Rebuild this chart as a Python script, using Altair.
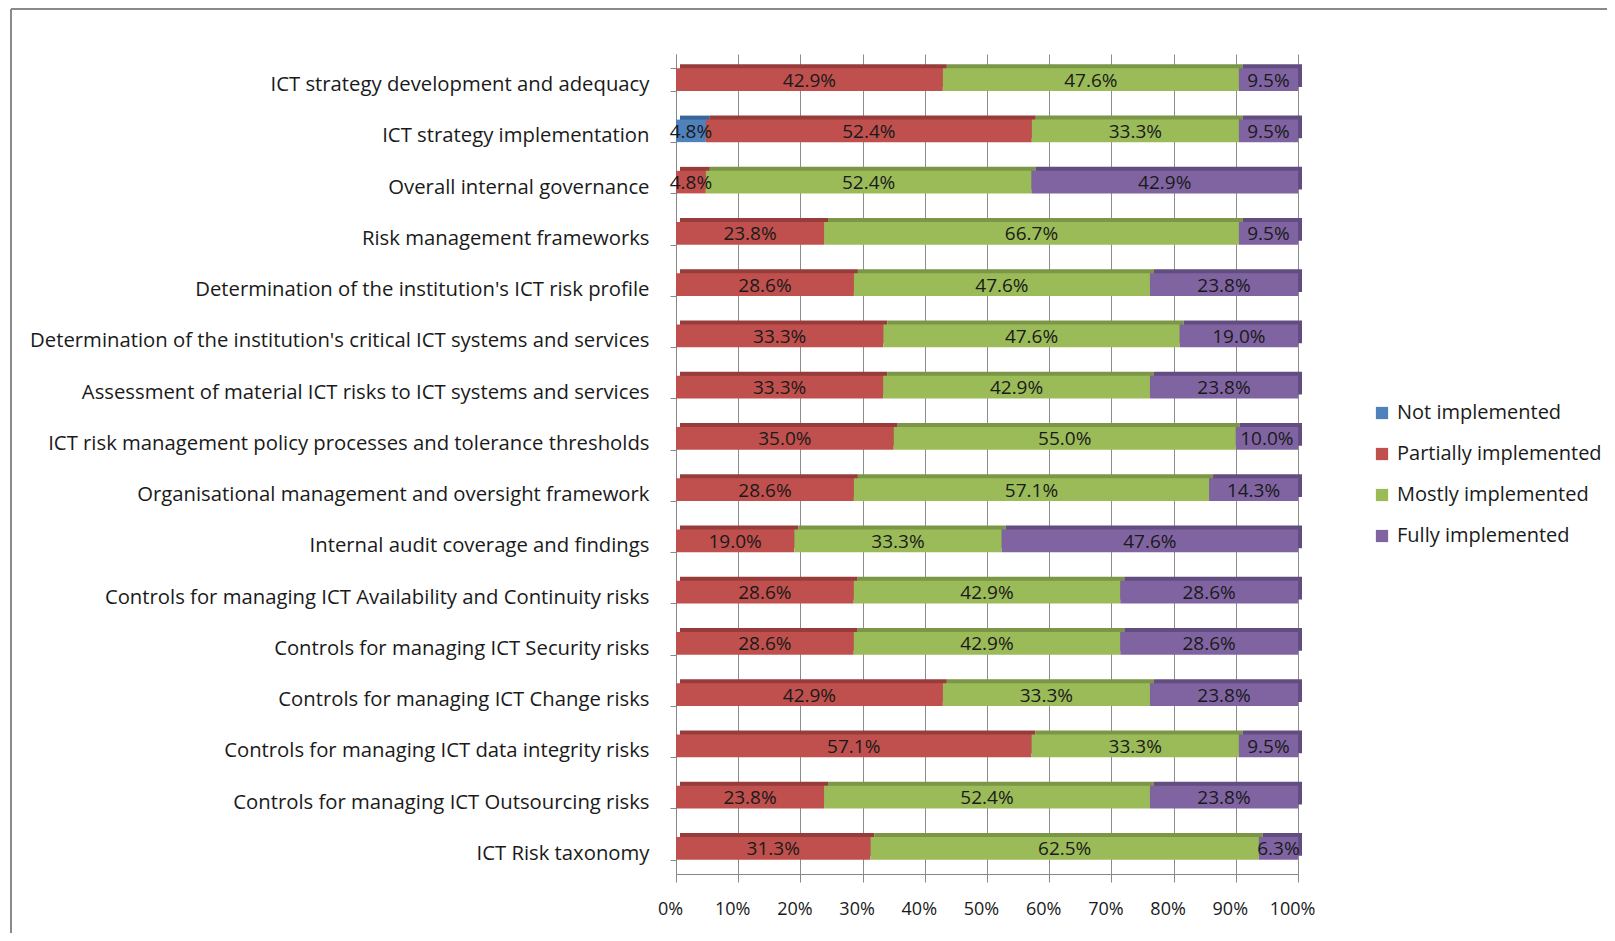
import altair as alt
import pandas as pd

categories = [
    "ICT strategy development and adequacy",
    "ICT strategy implementation",
    "Overall internal governance",
    "Risk management frameworks",
    "Determination of the institution's ICT risk profile",
    "Determination of the institution's critical ICT systems and services",
    "Assessment of material ICT risks to ICT systems and services",
    "ICT risk management policy processes and tolerance thresholds",
    "Organisational management and oversight framework",
    "Internal audit coverage and findings",
    "Controls for managing ICT Availability and Continuity risks",
    "Controls for managing ICT Security risks",
    "Controls for managing ICT Change risks",
    "Controls for managing ICT data integrity risks",
    "Controls for managing ICT Outsourcing risks",
    "ICT Risk taxonomy",
]
series = ["Not implemented", "Partially implemented", "Mostly implemented", "Fully implemented"]
not_impl = [0, 4.8, 0, 0, 0, 0, 0, 0, 0, 0, 0, 0, 0, 0, 0, 0]
partially = [42.9, 52.4, 4.8, 23.8, 28.6, 33.3, 33.3, 35.0, 28.6, 19.0, 28.6, 28.6, 42.9, 57.1, 23.8, 31.3]
mostly = [47.6, 33.3, 52.4, 66.7, 47.6, 47.6, 42.9, 55.0, 57.1, 33.3, 42.9, 42.9, 33.3, 33.3, 52.4, 62.5]
fully = [9.5, 9.5, 42.9, 9.5, 23.8, 19.0, 23.8, 10.0, 14.3, 47.6, 28.6, 28.6, 23.8, 9.5, 23.8, 6.3]
tick_values = [0, 0.1, 0.2, 0.3, 0.4, 0.5, 0.6, 0.7, 0.8, 0.9, 1.0]

colors = ["#4F81BD", "#C0504D", "#9BBB59", "#8064A2"]
dark_colors = ["#3A6597", "#973C3A", "#7A9646", "#624D80"]

rows = []
for s_i, (s, vals) in enumerate(zip(series, [not_impl, partially, mostly, fully])):
    for c, v in zip(categories, vals):
        rows.append({"category": c, "series": s, "k": s_i, "value": v})
df = pd.DataFrame(rows)

FONT = "Open Sans"
W, H = 622, 820
PAD_L, PAD_T = 668, 46

y_enc = alt.Y("category:N", sort=categories, title=None,
              scale=alt.Scale(paddingInner=0.56, paddingOuter=0.28),
              axis=alt.Axis(labelFontSize=20.3, labelColor="#1a1a1a", labelFont=FONT,
                            labelPadding=21, labelOffset=5, tickBand="extent", ticks=True,
                            tickSize=6, tickColor="#888888", domainColor="#888888",
                            labelLimit=800))

x_scale = alt.Scale(domain=[0, 1])

base = alt.Chart(df).transform_filter(alt.datum.value > 0)

back = base.mark_bar(xOffset=4, yOffset=-4).encode(
    y=y_enc,
    x=alt.X("value:Q", stack="normalize", scale=x_scale, title=None,
            axis=alt.Axis(format=".0%", values=tick_values, labelOverlap=False,
                          labelFlush=False, labelOffset=-6,
                          labelFontSize=18, labelColor="#1a1a1a", labelFont=FONT,
                          grid=True, gridColor="#8c8c8c", tickColor="#888888",
                          domainColor="#888888", tickSize=8, labelPadding=18)),
    color=alt.Color("series:N", sort=series,
                    scale=alt.Scale(domain=series, range=dark_colors), legend=None),
    order=alt.Order("k:Q"),
)

front = base.mark_bar().encode(
    y=alt.Y("category:N", sort=categories),
    x=alt.X("value:Q", stack="normalize", scale=x_scale),
    color=alt.Color("series:N", sort=series,
                    scale=alt.Scale(domain=series, range=colors),
                    legend=alt.Legend(title=None, orient="none", legendX=696, legendY=349,
                                      symbolType="square", symbolSize=150,
                                      symbolStrokeWidth=0, labelFontSize=20,
                                      labelFont=FONT, labelColor="#1a1a1a",
                                      rowPadding=21, labelOffset=5, labelLimit=400)),
    order=alt.Order("k:Q"),
)

labels = base.transform_joinaggregate(
    total="sum(value)", groupby=["category"]
).transform_window(
    cum="sum(value)", groupby=["category"], sort=[alt.SortField("k")],
    frame=[None, 0]
).transform_calculate(
    mid="(datum.cum - datum.value / 2) / datum.total",
    label="format(datum.value, '.1f') + '%'"
).mark_text(fontSize=19, font=FONT, color="#1a1a1a", dy=1).encode(
    y=alt.Y("category:N", sort=categories),
    x=alt.X("mid:Q", scale=x_scale),
    text="label:N",
)

border_left = alt.Chart(df).mark_rule(color="#8a8a8a", strokeWidth=1.5).encode(
    x=alt.value(3 - PAD_L), y=alt.value(1 - PAD_T), y2=alt.value(H + 120))
border_top = alt.Chart(df).mark_rule(color="#8a8a8a", strokeWidth=1.5).encode(
    x=alt.value(3 - PAD_L), x2=alt.value(1599 - PAD_L), y=alt.value(1 - PAD_T))

chart = alt.layer(back, front, labels, border_left, border_top).resolve_scale(
    color="independent"
).properties(
    width=W, height=H,
    autosize=alt.AutoSizeParams(type="none"),
    padding={"left": PAD_L, "top": PAD_T, "right": 1599 - PAD_L - W, "bottom": 925 - PAD_T - H},
).configure_view(stroke=None).configure_axis(domainWidth=1)

chart.save("out.html", embed_options={"renderer": "svg", "actions": False})
